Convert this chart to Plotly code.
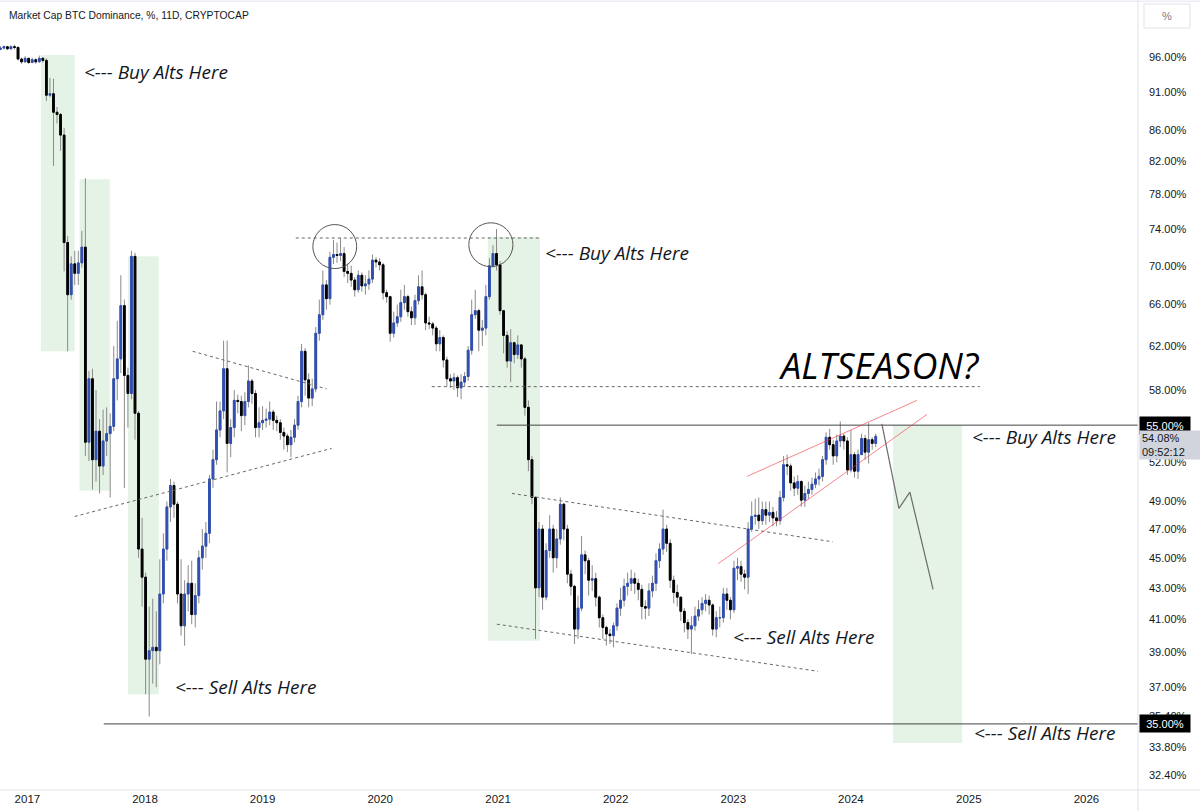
import numpy as np
import pandas as pd
import plotly.graph_objects as go

# ---------------- data (BTC dominance, 11D candles, %) ----------------
start_date = "2016-10-09"
first_open = 97.1

close = [
    97.3, 97.5, 97.2, 97.5, 97.4, 95.7, 95.3, 95.8, 95.2, 95.6, 95.3, 95.8, 95.5,
    90.6, 90.8, 88.3, 88.0, 85.3, 72.5, 67.0, 70.2, 69.2, 70.3, 72.0,
    53.6, 59.0, 52.2, 54.5, 51.7, 53.7, 54.3, 54.9, 59.0, 60.8, 65.9, 59.3, 57.7, 71.0,
    56.0, 45.6, 43.7, 38.6, 39.1, 39.3, 39.1, 42.6, 45.6, 48.6, 50.2, 48.8, 42.6, 40.6,
    42.6, 43.3, 41.3, 42.5, 45.0, 45.8, 46.7,
    50.7, 52.2, 54.6, 56.2, 59.9, 53.5, 54.8, 57.1, 57.0, 55.8, 57.0, 58.8, 57.7, 54.8,
    55.2, 55.4, 55.5, 56.1, 55.4, 55.2, 54.4, 54.1, 53.4, 54.0, 55.0, 57.0, 61.5, 58.9,
    57.3, 58.1, 63.2, 65.0, 68.0, 66.6, 70.9,
    71.2, 71.1, 71.3, 69.4, 69.2, 68.5, 67.5, 69.0, 67.9, 68.1, 68.6, 70.6, 70.4, 70.1,
    67.2, 66.8, 63.2, 64.2, 64.8, 66.2, 66.8, 65.3, 64.7, 66.4, 67.8, 67.0, 64.2, 64.1,
    63.7, 62.2, 62.8, 60.7, 59.0, 58.8, 59.1, 58.2, 58.7, 59.2, 61.6, 65.0, 65.4, 63.5,
    63.7, 66.8, 70.0, 71.3, 70.1,
    65.4, 63.0, 60.6, 62.3, 61.2, 62.1, 60.8, 56.5, 52.2, 49.3, 43.0, 47.0,
    42.4, 45.5, 47.0, 45.0, 46.3, 48.8, 47.0, 43.9, 43.1, 40.4, 41.7, 45.2, 44.8, 43.5,
    43.6, 42.4, 41.1, 40.5, 40.1, 40.0, 40.6, 41.7, 42.2, 43.1, 43.3, 43.6, 43.3, 42.9,
    41.8, 41.7, 42.8, 43.3,
    44.8, 45.6, 47.0, 46.0, 43.5, 42.7, 42.4, 41.5, 40.8, 40.4, 40.6, 41.2, 41.6, 42.0,
    42.2, 41.9, 40.4, 41.1, 41.1, 42.6, 42.2, 41.6, 44.3, 44.4, 43.9, 43.7, 47.0, 47.9,
    48.0, 47.6, 48.4, 48.0, 48.2, 47.8, 47.6, 49.3, 51.8, 51.7, 50.4, 50.0, 50.5, 49.1,
    49.6, 49.9, 50.3, 50.7, 50.9, 52.2, 54.0,
    53.4, 52.5, 53.7, 54.1, 53.7, 51.4, 52.6, 51.3, 52.6, 53.9, 52.8, 53.8, 53.5, 54.08,
]

high = [
    97.6, 97.7, 97.6, 97.7, 97.8, 97.5, 95.9, 96.1, 95.9, 95.9, 95.8, 96.2, 96.0,
    95.8, 93.0, 92.9, 89.0, 88.2, 86.2, 73.2, 71.0, 71.6, 71.6, 73.8,
    79.9, 59.7, 59.9, 58.0, 55.5, 56.3, 56.5, 56.0, 62.0, 64.4, 69.0, 66.5, 60.0, 71.6,
    71.4, 56.2, 47.8, 44.0, 41.8, 42.3, 41.5, 44.9, 46.7, 49.0, 50.7, 50.5, 49.0, 44.9,
    43.5, 44.5, 44.8, 43.3, 45.5, 47.0, 47.5,
    51.0, 53.0, 57.0, 57.0, 62.5, 62.5, 55.5, 58.0, 57.6, 57.5, 57.8, 60.2, 59.0, 58.0,
    56.5, 56.6, 56.4, 57.0, 56.3, 55.8, 55.5, 54.8, 54.3, 54.6, 55.5, 57.5, 62.2, 61.8,
    59.5, 59.0, 63.8, 66.5, 69.5, 68.5, 71.5,
    72.8, 72.5, 73.0, 72.0, 70.2, 70.0, 68.8, 69.5, 69.3, 69.0, 69.5, 71.2, 70.9, 70.8,
    70.3, 67.5, 66.9, 65.3, 66.0, 67.5, 68.0, 67.0, 65.8, 67.0, 69.0, 69.5, 67.2, 64.8,
    64.3, 63.9, 63.5, 63.0, 61.0, 59.4, 59.5, 59.3, 59.4, 59.6, 62.0, 66.5, 67.5, 65.6,
    64.5, 68.0, 70.8, 72.2, 74.0,
    70.5, 64.7, 63.4, 63.6, 62.4, 63.0, 62.1, 61.0, 57.1, 52.5, 49.4, 47.5,
    47.3, 46.0, 48.0, 47.3, 47.0, 49.3, 48.9, 47.3, 44.2, 43.2, 42.5, 46.5, 45.5, 45.0,
    44.5, 44.0, 42.5, 41.3, 40.6, 40.4, 40.8, 42.0, 43.0, 43.6, 44.0, 44.2, 44.0, 43.6,
    43.2, 42.2, 43.3, 43.8,
    45.3, 46.0, 48.4, 47.3, 46.3, 43.8, 43.2, 42.4, 41.7, 41.0, 41.2, 41.8, 42.2, 42.4,
    42.6, 42.5, 42.0, 41.5, 41.8, 43.0, 43.0, 42.4, 44.8, 45.0, 44.8, 44.2, 47.5, 49.0,
    49.2, 49.3, 49.0, 49.0, 49.0, 48.6, 48.3, 49.8, 52.5, 52.6, 51.9, 50.9, 51.0, 50.6,
    50.2, 50.5, 50.8, 51.2, 51.5, 52.5, 54.4,
    54.7, 53.8, 54.2, 55.3, 54.3, 54.0, 54.6, 52.8, 53.0, 54.3, 54.2, 55.2, 54.0, 54.3,
]

low = [
    97.0, 97.1, 97.0, 97.1, 97.1, 95.5, 95.0, 95.2, 95.0, 95.1, 95.0, 95.2, 95.2,
    89.8, 90.3, 81.4, 86.8, 83.3, 69.4, 61.5, 66.5, 68.0, 68.0, 69.8,
    52.5, 52.1, 49.9, 50.5, 49.6, 51.0, 52.5, 49.3, 54.5, 57.1, 59.5, 50.0, 54.8, 57.2,
    53.8, 45.0, 41.8, 36.6, 35.4, 37.2, 37.0, 38.3, 42.0, 44.8, 47.5, 47.8, 42.0, 40.0,
    39.4, 41.5, 40.7, 40.5, 42.0, 44.2, 45.0,
    46.0, 50.0, 51.8, 54.0, 55.5, 51.2, 52.4, 54.0, 56.0, 54.5, 55.0, 56.5, 56.8, 54.0,
    54.0, 54.6, 54.8, 55.0, 54.6, 54.5, 53.8, 53.0, 52.8, 52.4, 53.6, 54.6, 56.5, 57.5,
    56.5, 56.6, 57.8, 62.5, 64.5, 65.5, 66.0,
    70.2, 70.3, 70.5, 68.8, 68.2, 67.8, 66.8, 67.2, 67.3, 67.0, 67.5, 68.2, 69.8, 69.5,
    66.5, 66.2, 62.4, 62.8, 63.8, 64.3, 65.5, 64.8, 64.0, 64.0, 66.0, 66.5, 63.5, 63.6,
    63.0, 61.5, 61.5, 60.0, 58.3, 58.2, 58.0, 57.4, 57.2, 58.3, 58.8, 61.2, 64.6, 61.5,
    62.0, 63.0, 66.5, 69.8, 69.5,
    65.0, 61.3, 60.0, 58.7, 60.4, 60.8, 60.0, 55.8, 51.3, 48.8, 39.8, 42.4,
    41.6, 42.2, 45.0, 44.0, 44.3, 45.9, 46.2, 43.3, 42.5, 39.5, 39.8, 41.5, 43.9, 42.5,
    42.8, 41.8, 40.5, 39.8, 39.4, 39.5, 39.3, 40.3, 41.2, 41.8, 42.5, 42.8, 42.6, 42.2,
    41.0, 41.0, 41.2, 42.4,
    42.8, 44.3, 45.2, 45.4, 43.0, 42.0, 41.8, 40.9, 40.2, 39.8, 38.9, 40.3, 40.9, 41.3,
    41.5, 41.3, 40.0, 39.9, 40.5, 40.8, 41.6, 41.0, 41.4, 43.5, 43.4, 42.9, 42.6, 46.8,
    47.3, 47.0, 47.3, 47.3, 47.5, 47.2, 47.2, 47.3, 49.0, 51.0, 49.8, 49.4, 49.5, 48.6,
    48.6, 49.2, 49.5, 50.0, 50.2, 50.5, 51.8,
    53.0, 51.8, 52.0, 53.2, 53.0, 51.0, 51.2, 50.8, 50.7, 52.6, 52.2, 51.9, 53.0, 53.2,
]

y_ticks = [96, 91, 86, 82, 78, 74, 70, 66, 62, 58, 52, 49, 47, 45, 43, 41, 39, 37, 35.4, 33.8, 32.4]

# ---------------- derived ----------------
n = len(close)
dates = pd.date_range(start_date, periods=n, freq="11D")
opn = np.array([first_open] + close[:-1])
cls = np.array(close)
hi = np.maximum(np.array(high), np.maximum(opn, cls))
lo = np.minimum(np.array(low), np.minimum(opn, cls))
body_hi = np.maximum(opn, cls)
body_lo = np.minimum(opn, cls)

UP = "#2f4fb5"
DOWN = "#000000"
WICK = "#8a8a8a"
TXT = "#131722"

fig = go.Figure()
# wicks
fig.add_trace(go.Candlestick(
    x=dates, open=opn, high=hi, low=lo, close=cls,
    increasing=dict(line=dict(color=WICK, width=1), fillcolor=WICK),
    decreasing=dict(line=dict(color=WICK, width=1), fillcolor=WICK),
    hoverinfo="skip", showlegend=False))
# bodies
fig.add_trace(go.Candlestick(
    x=dates, open=opn, high=body_hi, low=body_lo, close=cls,
    increasing=dict(line=dict(color=UP, width=1), fillcolor=UP),
    decreasing=dict(line=dict(color=DOWN, width=1), fillcolor=DOWN),
    hoverinfo="skip", showlegend=False))

shapes = []
GREEN = "rgba(76,175,80,0.15)"
zones = [
    ("2017-02-12", "2017-05-28", 61.5, 96.3),
    ("2017-06-12", "2017-09-14", 49.8, 79.8),
    ("2017-11-09", "2018-02-13", 36.6, 71.0),
    ("2020-11-30", "2021-05-11", 39.7, 73.1),
    ("2024-05-11", "2024-12-11", 34.0, 55.0),
]
for x0, x1, y0, y1 in zones:
    shapes.append(dict(type="rect", xref="x", yref="y", x0=x0, x1=x1, y0=y0, y1=y1,
                       fillcolor=GREEN, line=dict(width=0), layer="below"))

dotted = [
    ("2019-04-14", 73.0, "2021-05-11", 73.0),
    ("2020-06-09", 58.3, "2025-02-04", 58.3),
    ("2018-05-29", 61.5, "2019-07-19", 58.1),
    ("2017-05-28", 47.9, "2019-08-03", 53.1),
    ("2021-02-13", 49.6, "2023-11-06", 46.1),
    ("2020-12-28", 40.7, "2023-09-21", 37.9),
]
for x0, y0, x1, y1 in dotted:
    shapes.append(dict(type="line", xref="x", yref="y", x0=x0, y0=y0, x1=x1, y1=y1,
                       line=dict(color="#666666", width=1, dash="dot")))

x_end = "2026-06-10"
for x0, lvl in [("2020-12-28", 55.0), ("2017-08-26", 35.0)]:
    shapes.append(dict(type="line", xref="x", yref="y", x0=x0, y0=lvl, x1=x_end, y1=lvl,
                       line=dict(color="#444444", width=1)))

for x0, y0, x1, y1 in [("2023-02-13", 50.9, "2024-07-24", 57.1),
                       ("2022-11-15", 44.6, "2024-08-24", 55.9)]:
    shapes.append(dict(type="line", xref="x", yref="y", x0=x0, y0=y0, x1=x1, y1=y1,
                       line=dict(color="rgba(242,54,69,0.6)", width=1)))

proj = [("2024-04-06", 55.1), ("2024-05-29", 48.5), ("2024-07-02", 49.7), ("2024-09-12", 42.9)]
for (xa, ya), (xb, yb) in zip(proj[:-1], proj[1:]):
    shapes.append(dict(type="line", xref="x", yref="y", x0=xa, y0=ya, x1=xb, y1=yb,
                       line=dict(color="#6b6b6b", width=1.2)))

for x0, x1, y0, y1 in [("2019-06-06", "2019-10-20", 69.7, 74.5),
                       ("2020-10-02", "2021-02-16", 69.9, 74.7)]:
    shapes.append(dict(type="circle", xref="x", yref="y", x0=x0, x1=x1, y0=y0, y1=y1,
                       line=dict(color="#555555", width=1)))

# frame lines
BORDER = "#e0e3eb"
px_w = 1200 / 1138
shapes.append(dict(type="line", xref="paper", yref="paper", x0=0, x1=px_w, y0=0, y1=0,
                   line=dict(color=BORDER, width=1)))
shapes.append(dict(type="line", xref="paper", yref="paper", x0=1, x1=1, y0=-21 / 790, y1=1,
                   line=dict(color=BORDER, width=1)))
shapes.append(dict(type="line", xref="paper", yref="paper", x0=0, x1=px_w, y0=0.9985, y1=0.9985,
                   line=dict(color=BORDER, width=1)))
shapes.append(dict(type="rect", xref="paper", yref="paper", x0=1144 / 1138, x1=1190 / 1138,
                   y0=(790 - 28) / 790, y1=(790 - 4) / 790,
                   line=dict(color=BORDER, width=1), fillcolor="white"))

annotations = []
FONT_IT = "Open Sans"
notes = [
    ("2017-06-21", 93.8, "<--- Buy Alts Here"),
    ("2021-05-20", 71.4, "<--- Buy Alts Here"),
    ("2018-03-28", 37.0, "<--- Sell Alts Here"),
    ("2022-12-25", 39.9, "<--- Sell Alts Here"),
    ("2025-01-04", 54.0, "<--- Buy Alts Here"),
    ("2025-01-10", 34.5, "<--- Sell Alts Here"),
]
for x, y, t in notes:
    annotations.append(dict(x=x, y=np.log10(y), xref="x", yref="y", text="<i>" + t.replace("<", "&lt;") + "</i>",
                            showarrow=False, xanchor="left", yanchor="middle",
                            font=dict(family=FONT_IT, size=19, color=TXT)))
annotations.append(dict(x="2023-05-14", y=np.log10(60.2), xref="x", yref="y", text="<i>ALTSEASON?</i>",
                        showarrow=False, xanchor="left", yanchor="middle",
                        font=dict(family=FONT_IT, size=36, color="#000000")))

annotations.append(dict(x=7 / 1138, y=(790 - 16) / 790, xref="paper", yref="paper",
                        text="Market Cap BTC Dominance, %, 11D, CRYPTOCAP", showarrow=False,
                        xanchor="left", yanchor="middle",
                        font=dict(family="Liberation Sans", size=10.3, color=TXT)))
annotations.append(dict(x=1167 / 1138, y=(790 - 16) / 790, xref="paper", yref="paper",
                        text="%", showarrow=False, xanchor="center", yanchor="middle",
                        font=dict(family="Liberation Sans", size=11, color="#787b86")))
for lvl in [55.0, 35.0]:
    annotations.append(dict(x=1139 / 1138, y=np.log10(lvl), xref="paper", yref="y",
                            text="%.2f%%" % lvl, showarrow=False, xanchor="left", yanchor="middle",
                            bgcolor="#000000", width=46, height=13, borderpad=2,
                            font=dict(family="Liberation Sans", size=11, color="#ffffff")))
annotations.append(dict(x=1139 / 1138, y=np.log10(54.6), xref="paper", yref="y",
                        text="%.2f%%<br>09:52:12" % close[-1], showarrow=False,
                        xanchor="left", yanchor="top", align="left",
                        bgcolor="#d1d4dc", width=58, height=24, borderpad=2,
                        font=dict(family="Liberation Sans", size=11, color=TXT)))

fig.update_layout(
    width=1200, height=811,
    margin=dict(l=0, r=62, t=0, b=21),
    paper_bgcolor="white", plot_bgcolor="white",
    font=dict(family="Liberation Sans", size=11, color=TXT),
    shapes=shapes, annotations=annotations,
    showlegend=False,
    xaxis=dict(type="date", range=["2016-10-08", x_end], showgrid=False, zeroline=False,
               rangeslider=dict(visible=False), tickformat="%Y", dtick="M12",
               tick0="2017-01-01", ticks="", showline=False,
               tickfont=dict(size=11.5, color=TXT)),
    yaxis=dict(type="log", side="right", range=[np.log10(31.67), np.log10(104.64)],
               tickvals=y_ticks, ticktext=["%.2f%%" % v for v in y_ticks],
               showgrid=False, zeroline=False, ticks="", showline=False,
               ticklabelstandoff=10, tickfont=dict(size=11, color=TXT)),
)

fig.write_html("out.html")
